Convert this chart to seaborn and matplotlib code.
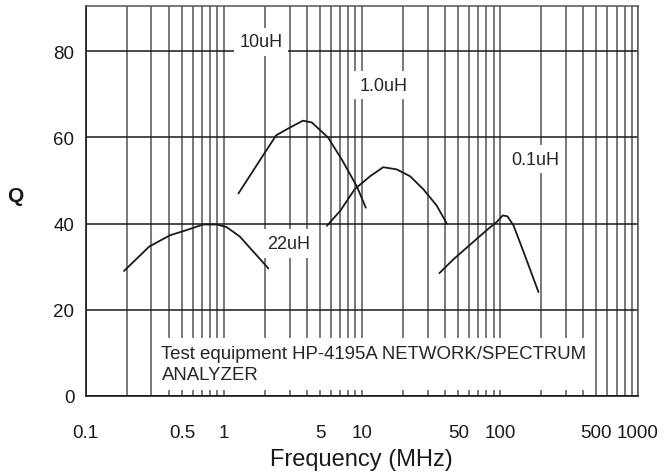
import numpy as np
import pandas as pd
import seaborn as sns
import matplotlib.pyplot as plt
from matplotlib.ticker import LogLocator, NullFormatter

# curves (frequency in MHz, Q)
f_22uH = [0.19, 0.29, 0.41, 0.54, 0.71, 0.89, 1.05, 1.31, 1.64, 2.11]
q_22uH = [29.0, 34.7, 37.3, 38.5, 39.8, 39.8, 39.2, 37.0, 33.5, 29.6]

f_10uH = [1.28, 1.9, 2.4, 2.9, 3.75, 4.35, 5.7, 7.2, 9.2, 10.7]
q_10uH = [47.0, 55.5, 60.5, 62.0, 63.9, 63.5, 60.0, 54.8, 48.7, 43.7]

f_1uH = [5.6, 7.0, 8.9, 11.5, 14.3, 17.9, 22.4, 27.9, 34.9, 41.3]
q_1uH = [39.5, 43.0, 48.0, 51.0, 53.1, 52.6, 51.0, 48.0, 44.2, 40.0]

f_01uH = [36.5, 46.1, 60.9, 80.5, 95.1, 105, 113.5, 125.5, 148.3, 190.5]
q_01uH = [28.5, 31.7, 35.1, 38.5, 40.4, 41.9, 41.7, 39.6, 33.5, 24.1]

x_ticks = [0.1, 0.5, 1, 5, 10, 50, 100, 500, 1000]
x_tick_labels = ['0.1', '0.5', '1', '5', '10', '50', '100', '500', '1000']
y_ticks = [0, 20, 40, 60, 80]

sns.set_style('white')
plt.rcParams['font.family'] = ['Liberation Sans', 'DejaVu Sans']

fig = plt.figure(figsize = (6.68, 4.77), dpi = 100)
ax = fig.add_axes([0.128, 0.168, 0.827, 0.817])

curves = [
    (f_22uH, q_22uH),
    (f_10uH, q_10uH),
    (f_1uH, q_1uH),
    (f_01uH, q_01uH),
]
for f, q in curves:
    sns.lineplot(
        x = f,
        y = q,
        ax = ax,
        color = '#1a1a1a',
        linewidth = 1.3,
        sort = False,
        zorder = 3
    )

ax.set_xscale('log')
ax.set_xlim(0.1, 1000)
ax.set_ylim(0, 90.5)
ax.set_xticks(x_ticks)
ax.set_xticklabels(x_tick_labels)
ax.xaxis.set_minor_locator(LogLocator(base = 10, subs = np.arange(1, 10)))
ax.xaxis.set_minor_formatter(NullFormatter())
ax.set_yticks(y_ticks)

ax.grid(which = 'both', axis = 'x', color = '#555555', linewidth = 1.1)
ax.grid(which = 'major', axis = 'y', color = '#1a1a1a', linewidth = 1.1)
ax.set_axisbelow(True)

ax.tick_params(axis = 'both', which = 'both', length = 0, labelsize = 13.5, colors = '#1a1a1a')
ax.tick_params(axis = 'x', pad = 20)
ax.tick_params(axis = 'y', pad = 8)

for side in ['left', 'bottom']:
    ax.spines[side].set_color('#1a1a1a')
    ax.spines[side].set_linewidth(1.2)
for side in ['top', 'right']:
    ax.spines[side].set_color('#555555')
    ax.spines[side].set_linewidth(1.1)

ax.set_xlabel('Frequency (MHz)', fontsize = 17, color = '#1a1a1a')
ax.xaxis.set_label_coords(0.5, -0.135)
ax.set_ylabel('Q', rotation = 0, fontsize = 15, fontweight = 'bold', color = '#1a1a1a')
ax.yaxis.set_label_coords(-0.128, 0.49)

box = dict(facecolor = 'white', edgecolor = 'none', pad = 4)
ax.text(1.86, 82.2, '10uH', fontsize = 13, ha = 'center', va = 'center', bbox = box, zorder = 4)
ax.text(14.3, 72.1, '1.0uH', fontsize = 13, ha = 'center', va = 'center', bbox = box, zorder = 4)
ax.text(180, 55.0, '0.1uH', fontsize = 13, ha = 'center', va = 'center', bbox = box, zorder = 4)
ax.text(2.97, 35.4, '22uH', fontsize = 13, ha = 'center', va = 'center', bbox = box, zorder = 4)
ax.text(
    0.355, 7.4,
    'Test equipment HP-4195A NETWORK/SPECTRUM\nANALYZER',
    fontsize = 13.4, ha = 'left', va = 'center', linespacing = 1.35,
    bbox = dict(facecolor = 'white', edgecolor = 'none', pad = 5), zorder = 4
)

fig.savefig('out.png', dpi = 100)
